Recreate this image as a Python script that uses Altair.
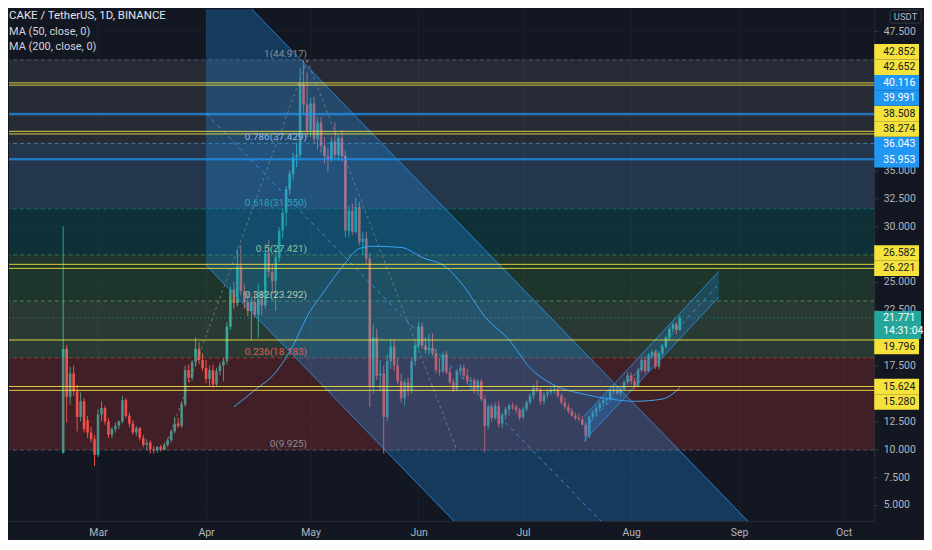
import numpy as np
import pandas as pd
import altair as alt

BG = "#131722"
GREEN = "#26a69a"
RED = "#ef5350"
YELLOW = "#f5e23c"
BLUE = "#2196f3"
TEXT = "#b2b5be"
LEGEND = "#d1d4dc"
FONT = "Roboto"

W, H = 869, 514          # plot area (price pane) in px
Y_MIN, Y_MAX = 3.571, 49.464

# ── daily candles, one per day from 2021-02-19 ─────────────────────────
START = "2021-02-19"
opens = [
    9.7, 19.0, 14.7, 16.8, 15.2, 12.9, 14.3, 12.6, 11.5, 10.9,
    9.5, 13.1, 13.7, 12.5, 11.3, 11.8, 12.1, 12.5, 14.4, 13.0,
    12.3, 11.5, 11.9, 11.0, 10.4, 10.6, 10.0, 9.9, 10.2, 9.95,
    10.4, 10.8, 11.6, 12.3, 12.1, 14.0, 17.1, 16.4, 17.8, 19.0,
    18.0, 17.3, 16.3, 17.1, 15.8, 17.0, 17.5, 17.9, 21.0, 24.3,
    23.1, 26.4, 24.2, 23.2, 22.4, 23.2, 22.1, 23.5, 22.9, 27.6,
    25.9, 25.1, 27.2, 29.6, 31.2, 33.3, 34.7, 36.2, 36.4, 42.8,
    40.9, 38.6, 41.0, 37.8, 39.3, 37.2, 36.3, 36.0, 37.6, 36.4,
    37.9, 36.3, 29.6, 31.4, 29.5, 31.7, 28.6, 28.9, 27.1, 15.6,
    20.0, 16.6, 16.8, 12.9, 17.9, 19.2, 17.5, 16.1, 14.6, 16.0,
    15.3, 17.9, 19.3, 21.0, 19.3, 18.9, 19.1, 18.6, 17.1, 17.0,
    18.5, 16.9, 16.0, 15.4, 17.0, 17.3, 16.6, 16.1, 16.2, 15.4,
    16.1, 14.5, 12.1, 13.8, 12.8, 13.9, 12.3, 13.1, 13.6, 13.9,
    13.8, 13.5, 12.85, 13.6, 14.2, 14.8, 15.5, 15.3, 14.3, 14.9,
    15.1, 15.3, 15.4, 14.8, 14.2, 13.8, 13.4, 13.0, 12.8, 12.7,
    12.2, 11.2, 12.9, 13.3, 13.7, 14.1, 14.4, 14.5, 15.2, 15.3,
    15.0, 15.4, 16.0, 16.6, 16.1, 15.7, 17.1, 18.0, 17.0, 18.4,
    18.7, 17.4, 18.6, 19.2, 20.0, 20.8, 21.2, 20.7,
]
highs = [
    30.0, 19.3, 17.4, 17.5, 15.8, 15.1, 14.6, 13.0, 12.0, 11.3,
    13.6, 14.3, 13.9, 12.8, 12.0, 12.4, 12.6, 14.8, 14.6, 13.3,
    12.6, 12.1, 12.0, 11.3, 10.9, 10.8, 10.3, 10.3, 10.4, 10.6,
    11.0, 11.8, 12.9, 12.8, 14.3, 17.5, 17.6, 18.0, 20.0, 19.6,
    18.6, 18.0, 17.5, 17.6, 17.3, 17.8, 18.2, 21.4, 24.6, 25.0,
    28.0, 28.3, 24.8, 24.0, 23.6, 24.2, 24.8, 24.2, 28.4, 28.8,
    26.6, 27.8, 29.9, 31.6, 33.6, 35.0, 36.6, 37.5, 44.2, 44.917,
    43.8, 41.5, 41.6, 39.8, 39.8, 38.0, 37.0, 38.0, 39.3, 38.2,
    38.6, 36.8, 31.8, 32.0, 32.6, 32.2, 29.5, 29.5, 27.6, 21.2,
    20.8, 18.0, 17.5, 18.5, 19.8, 19.8, 18.2, 16.8, 16.3, 16.4,
    18.2, 19.6, 21.4, 21.3, 20.0, 20.3, 20.4, 19.0, 18.2, 18.7,
    18.8, 17.3, 16.3, 17.2, 17.6, 17.6, 17.2, 16.5, 16.4, 16.3,
    16.3, 14.8, 14.0, 14.1, 14.2, 14.3, 13.3, 13.8, 14.1, 14.2,
    14.0, 13.7, 13.8, 14.4, 15.0, 15.8, 16.2, 15.5, 15.1, 15.4,
    15.5, 15.7, 15.6, 15.0, 14.6, 14.1, 13.7, 13.3, 13.2, 13.0,
    12.4, 13.0, 13.5, 14.0, 14.3, 14.6, 14.7, 15.4, 15.6, 15.6,
    15.6, 16.2, 16.9, 16.9, 16.4, 17.3, 18.2, 18.3, 18.6, 18.9,
    18.9, 18.8, 19.4, 20.2, 21.0, 21.4, 21.4, 22.0,
]
lows = [
    9.6, 12.4, 14.0, 14.8, 11.6, 12.5, 11.5, 11.0, 10.6, 8.5,
    9.3, 12.5, 12.2, 11.0, 11.0, 11.5, 11.8, 12.3, 12.8, 12.0,
    11.3, 11.2, 10.8, 10.2, 9.9, 9.6, 9.6, 9.7, 9.8, 9.9,
    10.2, 10.6, 11.4, 11.9, 11.9, 13.8, 16.0, 16.1, 17.4, 17.6,
    17.0, 15.9, 15.6, 15.5, 15.6, 16.6, 16.1, 17.6, 20.7, 22.6,
    22.8, 23.8, 22.6, 21.9, 19.8, 21.8, 20.0, 22.0, 22.6, 25.4,
    23.9, 22.4, 26.8, 28.9, 30.0, 32.8, 34.1, 35.3, 36.0, 40.1,
    38.0, 38.0, 37.4, 36.9, 36.6, 35.6, 34.9, 35.8, 36.0, 35.9,
    35.8, 29.0, 29.0, 29.2, 29.3, 28.3, 27.4, 26.5, 13.8, 15.0,
    16.2, 15.2, 9.6, 12.5, 17.2, 17.0, 15.8, 14.2, 13.9, 14.8,
    15.0, 17.5, 19.0, 19.0, 18.6, 18.5, 18.4, 16.8, 16.6, 16.8,
    16.7, 15.8, 15.1, 15.2, 16.6, 16.3, 15.9, 15.3, 15.0, 14.9,
    14.3, 9.7, 11.8, 12.5, 12.6, 12.0, 11.9, 12.7, 13.0, 13.5,
    13.2, 12.6, 12.7, 13.4, 14.0, 14.5, 15.1, 14.0, 14.0, 14.6,
    14.9, 15.0, 14.6, 14.0, 13.6, 13.2, 12.9, 12.6, 12.5, 12.1,
    10.7, 11.0, 12.6, 13.0, 13.4, 13.8, 14.0, 14.3, 14.9, 14.9,
    14.8, 15.2, 15.8, 15.8, 15.4, 15.5, 16.9, 16.8, 16.9, 18.1,
    17.2, 17.2, 18.4, 19.0, 19.7, 20.5, 20.3, 20.6,
]
closes = [
    19.0, 14.7, 16.8, 15.2, 12.9, 14.3, 11.8, 11.5, 10.9, 9.5,
    13.1, 13.7, 12.5, 11.3, 11.8, 12.1, 12.5, 14.4, 13.0, 12.3,
    11.5, 11.9, 11.0, 10.4, 10.6, 10.0, 9.9, 10.2, 9.95, 10.4,
    10.8, 11.6, 12.3, 12.1, 14.0, 17.1, 16.4, 17.8, 19.0, 18.0,
    17.3, 16.3, 17.1, 15.8, 17.0, 17.5, 17.9, 21.0, 24.3, 23.1,
    26.4, 24.2, 23.2, 22.4, 23.2, 22.1, 23.5, 22.9, 27.6, 25.9,
    25.1, 27.2, 29.6, 31.2, 33.3, 34.7, 36.2, 36.4, 42.8, 40.9,
    38.6, 41.0, 37.8, 39.3, 37.2, 36.3, 36.0, 37.6, 36.4, 37.9,
    36.3, 29.6, 31.4, 29.5, 31.7, 28.6, 28.9, 27.1, 15.6, 20.0,
    16.6, 16.8, 12.9, 17.9, 19.2, 17.5, 16.1, 14.6, 16.0, 15.3,
    17.9, 19.3, 21.0, 19.3, 18.9, 19.1, 18.6, 17.1, 17.0, 18.5,
    16.9, 16.0, 15.4, 17.0, 17.3, 16.6, 16.1, 16.2, 15.4, 16.1,
    14.5, 12.1, 13.8, 12.8, 13.9, 12.3, 13.1, 13.6, 13.9, 13.8,
    13.5, 12.85, 13.6, 14.2, 14.8, 15.5, 15.3, 14.3, 14.9, 15.1,
    15.3, 15.4, 14.8, 14.2, 13.8, 13.4, 13.0, 12.8, 12.7, 12.2,
    11.2, 12.9, 13.3, 13.7, 14.1, 14.4, 14.5, 15.2, 15.3, 15.0,
    15.4, 16.0, 16.6, 16.1, 15.7, 17.1, 18.0, 17.0, 18.4, 18.7,
    17.4, 18.6, 19.2, 20.0, 20.8, 21.2, 20.7, 21.771,
]

# MA(50) (day index from START, value)
ma_day = [49, 55, 61, 66, 70, 75, 80, 85, 89, 97, 103, 110, 115, 121,
          128, 134, 140, 150, 157, 164, 172, 177]
ma_val = [13.8, 15.3, 16.9, 19.3, 21.9, 24.2, 26.3, 28.0, 28.2, 28.1, 27.2,
          26.3, 24.6, 21.9, 19.8, 17.3, 15.9, 14.9, 14.5, 14.3, 14.5, 15.5]

# Fibonacci retracement
fib_ratio = ["0", "0.236", "0.382", "0.5", "0.618", "0.786", "1"]
fib_price = [9.925, 18.183, 23.292, 27.421, 31.550, 37.429, 44.917]
fib_color = ["#787b86", "#f44336", "#81c784", "#4caf50", "#009688", "#64b5f6", "#787b86"]
fib_text_color = ["#8a8e99", "#e8574d", "#b4ccb4", "#8fc49a", "#2aa6b6", "#8ab8e8", "#8a8e99"]
fib_label_date = "2021-04-30"
trend_a_dates, trend_a_prices = ["2021-03-20", "2021-04-30"], [9.925, 44.917]
trend_b_dates, trend_b_prices = ["2021-04-30", "2021-06-12"], [44.917, 9.925]

# horizontal lines drawn by the author
yellow_lines = [42.852, 42.652, 38.508, 38.274, 26.582, 26.221, 19.796, 15.624, 15.280]
blue_lines = [40.116, 39.991, 36.043, 35.953]

# falling channel (from 1 Apr) and rising channel (late July)
chan_dates = ["2021-04-01", "2021-09-04"]
chan_lower = [26.5, -23.8]
chan_upper = [53.7, 3.4]
rise_dates = ["2021-07-18 12:00", "2021-08-26 05:00"]
rise_lower = [10.75, 23.65]
rise_upper = [12.95, 25.95]

price_ticks = [5.0, 7.5, 10.0, 12.5, 15.0, 17.5, 20.0, 22.5, 25.0, 27.5, 30.0,
               32.5, 35.0, 37.5, 40.0, 42.5, 45.0, 47.5]
month_starts = ["2021-03-01", "2021-04-01", "2021-05-01", "2021-06-01",
                "2021-07-01", "2021-08-01", "2021-09-01", "2021-10-01"]
x_domain = ["2021-02-04 21:00", "2021-10-08 08:40"]
last_price = 21.771
countdown = "14:31:04"


def ms(s):
    return int(pd.Timestamp(s, tz="UTC").value // 10**6)


def day_ms(i):
    return int((pd.Timestamp(START, tz="UTC") + pd.Timedelta(days=float(i))).value // 10**6)


# ── price-scale label boxes (stacked away from the last-price box) ─────
k = H / (Y_MAX - Y_MIN)        # px per price unit
half = 7.75 / k
cur_lo, cur_hi = last_price - 21 / k, last_price + 7 / k
all_lines = yellow_lines + blue_lines
rows = []
edge = cur_hi
for p in sorted(p for p in all_lines if p > last_price):
    c = max(p, edge + half)
    edge = c + half
    rows.append((p, c))
edge = cur_lo
for p in sorted((p for p in all_lines if p < last_price), reverse=True):
    c = min(p, edge - half)
    edge = c - half
    rows.append((p, c))
bdf = pd.DataFrame(rows, columns=["p", "c"])
bdf["lo"] = bdf["c"] - half
bdf["hi"] = bdf["c"] + half
bdf["fill"] = [YELLOW if p in yellow_lines else BLUE for p in bdf["p"]]
bdf["ink"] = [BG if p in yellow_lines else "#ffffff" for p in bdf["p"]]
bdf["t"] = [f"{p:.3f}" for p in bdf["p"]]

# tick labels sitting under a box are hidden, as on the price scale
spans = list(zip(bdf["lo"], bdf["hi"])) + [(cur_lo, cur_hi)]
hidden = [t for t in price_ticks if any(lo <= t <= hi for lo, hi in spans)]
hidden_js = "[" + ",".join(str(t) for t in hidden) + "]"

XS = alt.Scale(type="utc", domain=[ms(s) for s in x_domain], nice=False)
YS = alt.Scale(domain=[Y_MIN, Y_MAX], nice=False, zero=False)
XA = alt.Axis(values=[ms(s) for s in month_starts],
              labelExpr="utcFormat(datum.value, '%b')",
              grid=True, gridColor="#1c2030", ticks=False, labelPadding=7,
              labelColor=TEXT, labelFont=FONT, labelFontSize=10.5,
              domainColor="#2a2e39")
YA = alt.Axis(orient="right", values=price_ticks,
              labelExpr=f"indexof({hidden_js}, datum.value) < 0 ? format(datum.value, '.3f') : ''",
              grid=True, gridColor="#191d28", tickColor="#363a45", tickSize=4,
              labelPadding=5, labelColor=TEXT, labelFont=FONT, labelFontSize=10.5,
              domainColor="#2a2e39")


def X(field="d"):
    return alt.X(f"{field}:T", scale=XS, axis=XA, title=None)


def Y(field):
    return alt.Y(f"{field}:Q", scale=YS, axis=YA, title=None)


# ── candles ─────────────────────────────────────────────────────────────
cdf = pd.DataFrame({"d": [day_ms(i) for i in range(len(closes))],
                    "o": opens, "h": highs, "l": lows, "c": closes})
cdf["lo"] = cdf[["o", "c"]].min(axis=1)
cdf["hi"] = cdf[["o", "c"]].max(axis=1)
cdf["col"] = np.where(cdf["c"] >= cdf["o"], GREEN, RED)

wicks = alt.Chart(cdf).mark_rule(strokeWidth=1).encode(
    x=X(), y=Y("l"), y2="h", color=alt.Color("col:N", scale=None))
bodies = alt.Chart(cdf).mark_bar(size=2.6).encode(
    x=X(), y=Y("lo"), y2="hi", color=alt.Color("col:N", scale=None))

# ── fib zones / lines / labels ─────────────────────────────────────────
zdf = pd.DataFrame({"lo": fib_price[:-1], "hi": fib_price[1:], "col": fib_color[1:]})
zones = alt.Chart(zdf).mark_rect(opacity=0.2).encode(
    x=alt.value(0), x2=alt.value(W), y=Y("lo"), y2="hi",
    color=alt.Color("col:N", scale=None))

fdf = pd.DataFrame({"p": fib_price, "col": fib_color, "tcol": fib_text_color,
                    "t": [f"{r}({p:.3f})" for r, p in zip(fib_ratio, fib_price)],
                    "d": ms(fib_label_date)})
fib_lines = alt.Chart(fdf).mark_rule(strokeDash=[4, 3], strokeWidth=1, opacity=0.55).encode(
    y=Y("p"), color=alt.Color("col:N", scale=None))
fib_labels = alt.Chart(fdf).mark_text(align="right", baseline="bottom", dy=-1,
                                      font=FONT, fontSize=10).encode(
    x=X(), y=Y("p"), text="t:N", color=alt.Color("tcol:N", scale=None))

tdf = pd.DataFrame({"d": [ms(s) for s in trend_a_dates + trend_b_dates],
                    "p": trend_a_prices + trend_b_prices,
                    "seg": ["a", "a", "b", "b"]})
trends = alt.Chart(tdf).mark_line(strokeDash=[3, 3], strokeWidth=1, color="#9598a1",
                                  opacity=0.6, clip=True).encode(
    x=X(), y=Y("p"), detail="seg:N")

# ── MA(50) ─────────────────────────────────────────────────────────────
mdf = pd.DataFrame({"d": [day_ms(i) for i in ma_day], "p": ma_val})
ma = alt.Chart(mdf).mark_line(color="#42a5f5", strokeWidth=1, interpolate="monotone").encode(
    x=X(), y=Y("p"))


# ── channels ───────────────────────────────────────────────────────────
def channel(dates, lower, upper, fill_opacity):
    d = [ms(s) for s in dates]
    band = pd.DataFrame({"d": d, "lo": lower, "up": upper})
    lines = pd.DataFrame({
        "d": d * 3,
        "p": lower + upper + [(a + b) / 2 for a, b in zip(lower, upper)],
        "k": ["lower"] * 2 + ["upper"] * 2 + ["mid"] * 2,
    })
    area = alt.Chart(band).mark_area(color=BLUE, opacity=fill_opacity, clip=True).encode(
        x=X(), y=Y("lo"), y2="up")
    edge = alt.Chart(lines).mark_line(color="#2f8ee6", strokeWidth=1, clip=True).encode(
        x=X(), y=Y("p"), detail="k:N",
        strokeDash=alt.StrokeDash("k:N", legend=None, scale=alt.Scale(
            domain=["lower", "mid", "upper"], range=[[1, 0], [4, 4], [1, 0]])))
    return area + edge


fall = channel(chan_dates, chan_lower, chan_upper, 0.28)
rise = channel(rise_dates, rise_lower, rise_upper, 0.22)

# ── horizontal lines ───────────────────────────────────────────────────
hdf = pd.DataFrame({"p": all_lines,
                    "col": [YELLOW] * len(yellow_lines) + [BLUE] * len(blue_lines)})
hlines = alt.Chart(hdf).mark_rule(strokeWidth=1, opacity=0.9).encode(
    y=Y("p"), color=alt.Color("col:N", scale=None))

price_line = alt.Chart(pd.DataFrame({"p": [last_price]})).mark_rule(
    strokeDash=[1, 3], strokeWidth=1, color=GREEN, opacity=0.8).encode(y=Y("p"))

box_rect = alt.Chart(bdf).mark_rect().encode(
    x=alt.value(W), x2=alt.value(W + 45), y=Y("lo"), y2="hi",
    color=alt.Color("fill:N", scale=None))
box_text = alt.Chart(bdf).mark_text(align="left", baseline="middle", font=FONT,
                                    fontSize=10.5).encode(
    x=alt.value(W + 9), y=Y("c"), text="t:N", color=alt.Color("ink:N", scale=None))

cur = pd.DataFrame({"lo": [cur_lo], "hi": [cur_hi],
                    "p": [last_price], "p2": [last_price - 13 / k],
                    "t": [f"{last_price:.3f}"], "t2": [countdown]})
cur_rect = alt.Chart(cur).mark_rect(color=GREEN).encode(
    x=alt.value(W), x2=alt.value(W + 47), y=Y("lo"), y2="hi")
cur_t1 = alt.Chart(cur).mark_text(align="left", baseline="middle", font=FONT,
                                  fontSize=10.5, color="#ffffff").encode(
    x=alt.value(W + 9), y=Y("p"), text="t:N")
cur_t2 = alt.Chart(cur).mark_text(align="left", baseline="middle", font=FONT,
                                  fontSize=10.5, color="#ffffff").encode(
    x=alt.value(W + 9), y=Y("p2"), text="t2:N")

# ── legend + unit tag ──────────────────────────────────────────────────
one = pd.DataFrame({"a": [0]})


def caption(text, y, size, color):
    return alt.Chart(one).mark_text(align="left", baseline="middle", font=FONT,
                                    fontSize=size, color=color).encode(
        x=alt.value(0), y=alt.value(y), text=alt.value(text))


legend = (caption("CAKE / TetherUS, 1D, BINANCE", 7, 11.5, "#e0e3eb")
          + caption("MA (50, close, 0)", 23, 11, LEGEND)
          + caption("MA (200, close, 0)", 38, 11, LEGEND))

usdt_box = alt.Chart(one).mark_rect(fill=BG, stroke="#363a45", cornerRadius=2).encode(
    x=alt.value(W + 16), x2=alt.value(W + 47), y=alt.value(1), y2=alt.value(14))
usdt_text = alt.Chart(one).mark_text(align="center", baseline="middle", font=FONT,
                                     fontSize=9.5, color=TEXT).encode(
    x=alt.value(W + 31.5), y=alt.value(7.5), text=alt.value("USDT"))

chart = (
    alt.layer(
        wicks, bodies, zones, fib_lines, ma, fall, rise, trends, hlines,
        price_line, fib_labels, box_rect, box_text, cur_rect, cur_t1, cur_t2,
        legend, usdt_box, usdt_text,
    )
    .properties(width=W, height=H, padding=0)
    .configure(background=BG)
    .configure_view(strokeWidth=0)
)

chart.save("out.html", embed_options={"renderer": "svg", "actions": False})
